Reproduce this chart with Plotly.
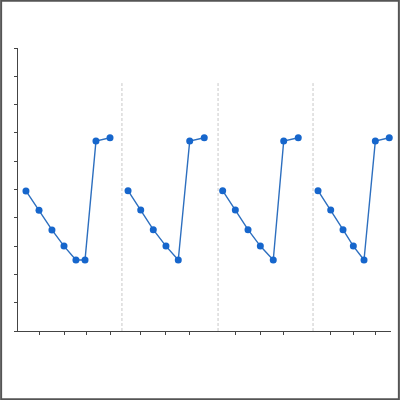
import plotly.graph_objects as go

# 四段锯齿数据（x 为横轴位置，y 为取值）
seg_x = [
    [0.64, 1.69, 2.73, 3.70, 4.66, 5.39, 6.27, 7.40],
    [8.85, 9.87, 10.88, 11.90, 12.89, 13.81, 14.98],
    [16.46, 17.48, 18.50, 19.49, 20.53, 21.37, 22.54],
    [24.13, 25.15, 26.14, 26.97, 27.83, 28.74, 29.86],
]
seg_y = [
    [4.95, 4.27, 3.57, 3.00, 2.51, 2.51, 6.71, 6.83],
    [4.96, 4.28, 3.58, 3.00, 2.51, 6.71, 6.83],
    [4.96, 4.28, 3.58, 3.00, 2.51, 6.71, 6.83],
    [4.96, 4.28, 3.58, 3.00, 2.51, 6.71, 6.83],
]

# 分隔虚线的位置和高度
divider_x = [8.36, 16.09, 23.73]
divider_top = 8.76

# 刻度
x_ticks = [1.69, 3.70, 5.47, 7.40, 9.87, 11.90, 13.81,
           17.48, 19.49, 21.37, 25.15, 26.97, 28.74]
y_ticks = list(range(0, 11))

fig = go.Figure()

for xs, ys in zip(seg_x, seg_y):
    fig.add_trace(go.Scatter(
        x=xs, y=ys,
        mode='lines+markers',
        line=dict(color='#2D6FBF', width=1.4),
        marker=dict(color='#1666CC', size=7),
        cliponaxis=False,
        showlegend=False,
        hoverinfo='x+y',
    ))

for dx in divider_x:
    fig.add_shape(type='line', xref='x', yref='y',
                  x0=dx, x1=dx, y0=0, y1=divider_top,
                  line=dict(color='#C8C8C8', width=1, dash='3px,2px'),
                  layer='below')

# 外框
ml, mr, mt, mb = 18, 9, 48, 69
pw, ph = 400 - ml - mr, 400 - mt - mb
fig.add_shape(type='rect', xref='paper', yref='paper',
              x0=-ml / pw + 0.003, x1=1 + mr / pw - 0.003,
              y0=-mb / ph + 0.003, y1=1 + mt / ph - 0.003,
              line=dict(color='#555555', width=2))

fig.update_xaxes(
    range=[0, 30],
    showgrid=False, zeroline=False,
    showline=True, linecolor='#444444', linewidth=1.3,
    ticks='outside', ticklen=3, tickcolor='#444444', tickwidth=1,
    tickvals=x_ticks, showticklabels=False,
)
fig.update_yaxes(
    range=[0, 10],
    showgrid=False, zeroline=False,
    showline=True, linecolor='#444444', linewidth=1.3,
    ticks='outside', ticklen=3, tickcolor='#444444', tickwidth=1,
    tickvals=y_ticks, showticklabels=False,
)

fig.update_layout(
    width=400, height=400,
    margin=dict(l=ml, r=mr, t=mt, b=mb),
    plot_bgcolor='white',
    paper_bgcolor='white',
)

# 去掉页面默认边距，让图从窗口左上角开始
fig.write_html("out.html", config={'displayModeBar': False},
               post_script="document.body.style.margin='0';")
